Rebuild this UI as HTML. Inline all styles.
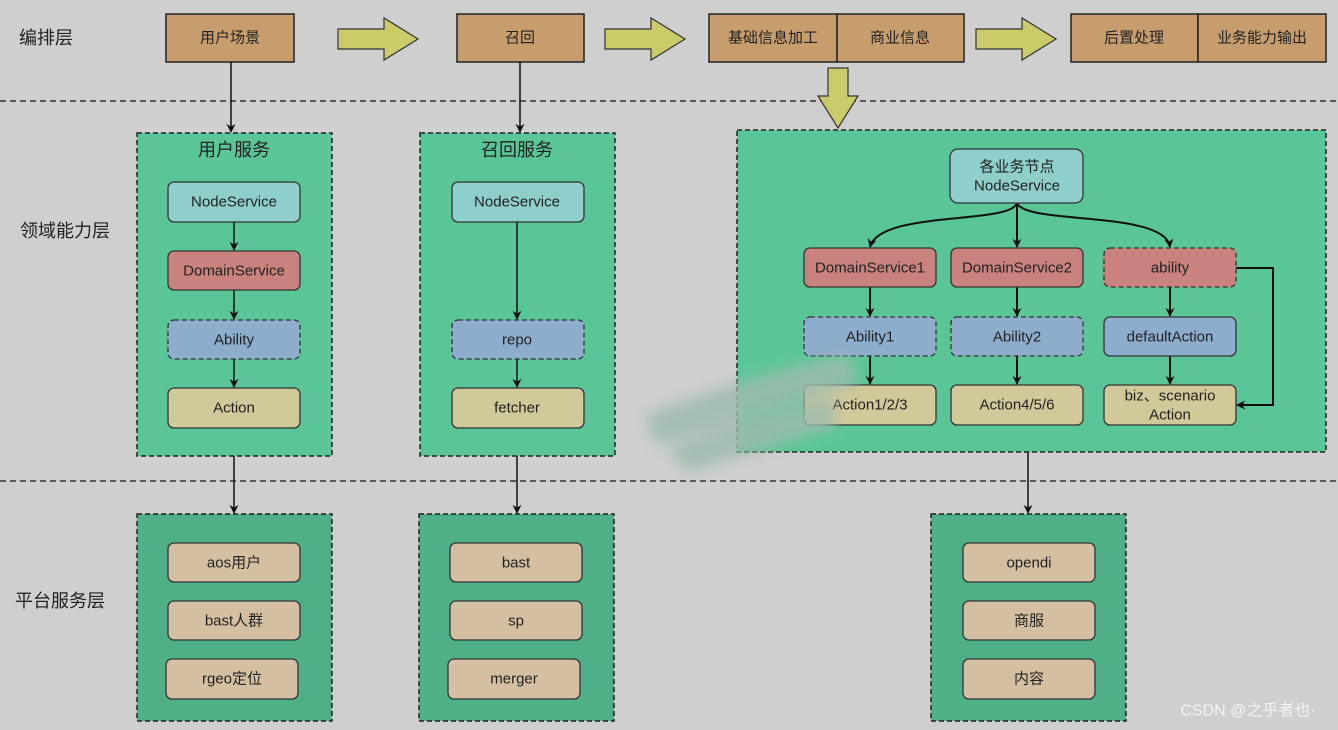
<!DOCTYPE html>
<html><head><meta charset="utf-8"><style>
html,body{margin:0;padding:0;background:#cfcfcf;}
svg{display:block}
text{font-family:"Liberation Sans","Noto Sans CJK SC",sans-serif;fill:#222;text-anchor:middle;dominant-baseline:central}
</style></head><body>
<svg width="1338" height="730" viewBox="0 0 1338 730" xmlns="http://www.w3.org/2000/svg">
<defs>
<marker id="a" viewBox="0 0 10 10" refX="9" refY="5" markerWidth="9" markerHeight="9" orient="auto" markerUnits="userSpaceOnUse"><path d="M0,0 L10,5 L0,10 L3,5 z" fill="#111"/></marker>
<filter id="bl"><feGaussianBlur stdDeviation="7"/></filter>
</defs>
<rect width="1338" height="730" fill="#cfcfcf"/>
<line x1="0" y1="101" x2="1338" y2="101" stroke="#333" stroke-width="1.5" stroke-dasharray="6,4"/>
<line x1="0" y1="481" x2="1338" y2="481" stroke="#333" stroke-width="1.5" stroke-dasharray="6,4"/>
<g font-size="18"><text x="46" y="38">编排层</text><text x="65" y="231">领域能力层</text><text x="60" y="601">平台服务层</text></g>
<g fill="#c89d6e" stroke="#222" stroke-width="1.5">
<rect x="166" y="14" width="128" height="48"/><rect x="457" y="14" width="127" height="48"/>
<rect x="709" y="14" width="128" height="48"/><rect x="837" y="14" width="127" height="48"/>
<rect x="1071" y="14" width="127" height="48"/><rect x="1198" y="14" width="128" height="48"/>
</g>
<g font-size="15"><text x="230" y="38">用户场景</text><text x="520" y="38">召回</text><text x="773" y="38">基础信息加工</text><text x="900" y="38">商业信息</text><text x="1134" y="38">后置处理</text><text x="1262" y="38">业务能力输出</text></g>
<g fill="#cccb6a" stroke="#333" stroke-width="1.2">
<path d="M338,29 h46 v-11 l34,21 l-34,21 v-11 h-46z"/>
<path d="M605,29 h46 v-11 l34,21 l-34,21 v-11 h-46z"/>
<path d="M976,29 h46 v-11 l34,21 l-34,21 v-11 h-46z"/>
<path d="M828,68 h20 v28 h10 l-20,32 l-20,-32 h10z"/>
</g>
<g stroke="#222" stroke-width="1.5" stroke-dasharray="5,3">
<rect x="137" y="133" width="195" height="323" fill="#5ac697"/>
<rect x="420" y="133" width="195" height="323" fill="#5ac697"/>
<rect x="737" y="130" width="589" height="322" fill="#5ac697"/>
<rect x="137" y="514" width="195" height="207" fill="#4faf87"/>
<rect x="419" y="514" width="195" height="207" fill="#4faf87"/>
<rect x="931" y="514" width="195" height="207" fill="#4faf87"/>
</g>
<g font-size="18"><text x="234" y="150">用户服务</text><text x="517" y="150">召回服务</text></g>
<g stroke="#111" stroke-width="1.5" fill="none" marker-end="url(#a)">
<line x1="231" y1="62" x2="231" y2="132"/><line x1="520" y1="62" x2="520" y2="132"/>
<line x1="234" y1="222" x2="234" y2="250"/><line x1="234" y1="290" x2="234" y2="319"/><line x1="234" y1="359" x2="234" y2="387"/>
<line x1="517" y1="222" x2="517" y2="319"/><line x1="517" y1="359" x2="517" y2="387"/>
<line x1="234" y1="456" x2="234" y2="513"/><line x1="517" y1="456" x2="517" y2="513"/><line x1="1028" y1="452" x2="1028" y2="513"/>
<path d="M1017,203 C1010,225 880,210 870,247" stroke-width="2"/>
<line x1="1017" y1="203" x2="1017" y2="247" stroke-width="2"/>
<path d="M1017,203 C1025,225 1165,210 1170,247" stroke-width="2"/>
<line x1="870" y1="287" x2="870" y2="316" stroke-width="2"/><line x1="1017" y1="287" x2="1017" y2="316" stroke-width="2"/><line x1="1170" y1="287" x2="1170" y2="316" stroke-width="2"/>
<line x1="870" y1="356" x2="870" y2="384" stroke-width="2"/><line x1="1017" y1="356" x2="1017" y2="384" stroke-width="2"/><line x1="1170" y1="356" x2="1170" y2="384" stroke-width="2"/>
<path d="M1236,268 H1273 V405 H1237" stroke-width="2"/>
</g>
<g stroke="#333" stroke-width="1.3">
<rect x="168" y="182" width="132" height="40" rx="6" fill="#8ecfcc"/>
<rect x="168" y="251" width="132" height="39" rx="6" fill="#c9827e"/>
<rect x="168" y="320" width="132" height="39" rx="6" fill="#8eaccc" stroke-dasharray="5,3"/>
<rect x="168" y="388" width="132" height="40" rx="6" fill="#d2c99a"/>
<rect x="452" y="182" width="132" height="40" rx="6" fill="#8ecfcc"/>
<rect x="452" y="320" width="132" height="39" rx="6" fill="#8eaccc" stroke-dasharray="5,3"/>
<rect x="452" y="388" width="132" height="40" rx="6" fill="#d2c99a"/>
<rect x="950" y="149" width="133" height="54" rx="8" fill="#8ecfcc"/>
<rect x="804" y="248" width="132" height="39" rx="6" fill="#c9827e"/>
<rect x="951" y="248" width="132" height="39" rx="6" fill="#c9827e"/>
<rect x="1104" y="248" width="132" height="39" rx="6" fill="#c9827e" stroke-dasharray="5,3"/>
<rect x="804" y="317" width="132" height="39" rx="6" fill="#8eaccc" stroke-dasharray="5,3"/>
<rect x="951" y="317" width="132" height="39" rx="6" fill="#8eaccc" stroke-dasharray="5,3"/>
<rect x="1104" y="317" width="132" height="39" rx="6" fill="#8eaccc"/>
<rect x="804" y="385" width="132" height="40" rx="6" fill="#d2c99a"/>
<rect x="951" y="385" width="132" height="40" rx="6" fill="#d2c99a"/>
<rect x="1104" y="385" width="132" height="40" rx="6" fill="#d2c99a"/>
<g fill="#d5bfa2">
<rect x="168" y="543" width="132" height="39" rx="6"/><rect x="168" y="601" width="132" height="39" rx="6"/><rect x="166" y="659" width="132" height="40" rx="6"/>
<rect x="450" y="543" width="132" height="39" rx="6"/><rect x="450" y="601" width="132" height="39" rx="6"/><rect x="448" y="659" width="132" height="40" rx="6"/>
<rect x="963" y="543" width="132" height="39" rx="6"/><rect x="963" y="601" width="132" height="39" rx="6"/><rect x="963" y="659" width="132" height="40" rx="6"/>
</g>
</g>
<g font-size="15">
<text x="234" y="202">NodeService</text><text x="234" y="271">DomainService</text><text x="234" y="340">Ability</text><text x="234" y="408">Action</text>
<text x="517" y="202">NodeService</text><text x="517" y="340">repo</text><text x="517" y="408">fetcher</text>
<text x="1017" y="167">各业务节点</text><text x="1017" y="186">NodeService</text>
<text x="870" y="268">DomainService1</text><text x="1017" y="268">DomainService2</text><text x="1170" y="268">ability</text>
<text x="870" y="337">Ability1</text><text x="1017" y="337">Ability2</text><text x="1170" y="337">defaultAction</text>
<text x="870" y="405">Action1/2/3</text><text x="1017" y="405">Action4/5/6</text><text x="1170" y="396">biz、scenario</text><text x="1170" y="415">Action</text>
<text x="234" y="563">aos用户</text><text x="234" y="621">bast人群</text><text x="232" y="679">rgeo定位</text>
<text x="516" y="563">bast</text><text x="516" y="621">sp</text><text x="514" y="679">merger</text>
<text x="1029" y="563">opendi</text><text x="1029" y="621">商服</text><text x="1029" y="679">内容</text>
</g>
<g filter="url(#bl)" opacity="0.85" fill="#9fbcae">
<path d="M645,415 C700,395 780,365 850,355 L858,385 C790,400 720,430 655,445 Z"/>
<path d="M668,448 C720,428 780,408 835,398 L835,428 C780,443 730,462 685,472 Z"/>
</g>
<text x="1248" y="711" font-size="16" style="fill:#f4f4f4">CSDN @之乎者也·</text>
</svg>
</body></html>
